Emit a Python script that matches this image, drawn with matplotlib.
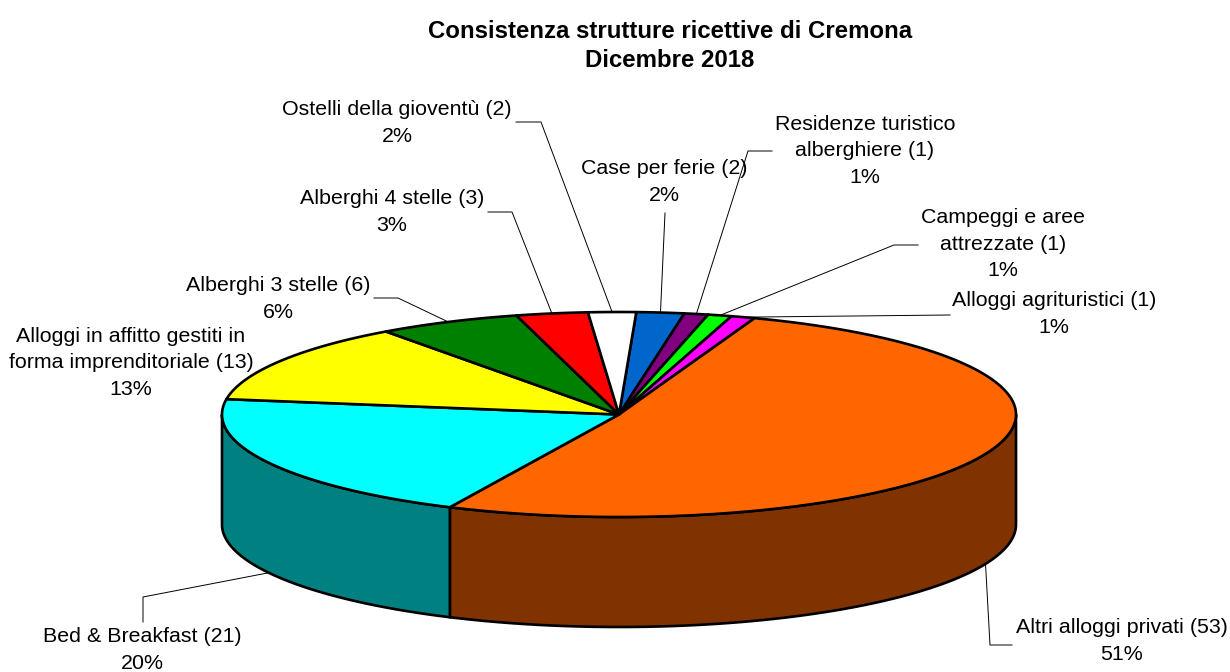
import numpy as np
import matplotlib
matplotlib.use("Agg")
import matplotlib.pyplot as plt
from matplotlib.patches import Polygon, Rectangle

plt.rcParams['font.family'] = ['Liberation Sans', 'DejaVu Sans']

# clockwise from the first slice
labels = ["Case per ferie (2)", "Residenze turistico\nalberghiere (1)",
          "Campeggi e aree\nattrezzate (1)", "Alloggi agrituristici (1)",
          "Altri alloggi privati (53)", "Bed & Breakfast (21)",
          "Alloggi in affitto gestiti in\nforma imprenditoriale (13)",
          "Alberghi 3 stelle (6)", "Alberghi 4 stelle (3)",
          "Ostelli della gioventù (2)"]
values = [2, 1, 1, 1, 53, 21, 13, 6, 3, 2]
colors = ["#0066CC", "#800080", "#00FF00", "#FF00FF", "#FF6600",
          "#00FFFF", "#FFFF00", "#008000", "#FF0000", "#FFFFFF"]
side_colors = ["#003366", "#400040", "#008000", "#800080", "#803300",
               "#008080", "#808000", "#004000", "#800000", "#808080"]

title = "Consistenza strutture ricettive di Cremona\nDicembre 2018"

# layout, in pixels
CX, CY, RX, RY, DEPTH = 619, 414.5, 397, 102.5, 110
START = 87.5
# label centre, then the leader's elbow points starting at the label
label_pos = [(664, 182), (865, 151), (1003, 244), (1054, 314), (1122, 641),
             (142, 650), (131, 363), (278, 299), (392, 212), (397, 123)]
leaders = [[(665, 213)],
           [(772, 151), (748, 151)],
           [(918, 245), (894, 245)],
           [(950, 315)],
           [(1012, 645), (990, 645)],
           [(143, 622), (143, 597)],
           None,
           [(374, 298), (398, 298)],
           [(488, 212), (512, 212)],
           [(516, 122), (541, 122)]]


def rim(angle, drop=0):
    a = np.radians(angle)
    return CX + RX * np.cos(a), CY - RY * np.sin(a) + drop


fig = plt.figure(figsize=(12.3, 6.72), dpi=100)
ax = fig.add_axes([0, 0, 1, 1])
ax.set_xlim(0, 1230)
ax.set_ylim(672, 0)
ax.axis("off")

total = sum(values)
sweep = np.array(values) / total * 360
ends = START - np.cumsum(sweep)
starts = ends + sweep

# side wall, only the part facing front (angles -180..0)
for s, e, c in zip(starts, ends, side_colors):
    for offset in (0, -360):
        hi, lo = min(s + offset, 0), max(e + offset, -180)
        if hi <= lo:
            continue
        t = np.linspace(hi, lo, 200)
        x, y = rim(t)
        xb, yb = rim(t[::-1], DEPTH)
        pts = np.column_stack([np.r_[x, xb], np.r_[y, yb]])
        ax.add_patch(Polygon(pts, closed=True, fc=c, ec="black", lw=1.9, zorder=2))

# top face
for s, e, c in zip(starts, ends, colors):
    t = np.linspace(s, e, 300)
    x, y = rim(t)
    pts = np.column_stack([np.r_[CX, x], np.r_[CY, y]])
    ax.add_patch(Polygon(pts, closed=True, fc=c, ec="black", lw=1.9,
                         joinstyle="round", zorder=3))

# labels and leaders
clip = Rectangle((11, 0), 1219, 672, transform=ax.transData)
for i, (lab, v) in enumerate(zip(labels, values)):
    txt = ax.text(label_pos[i][0], label_pos[i][1], f"{lab}\n{round(v / total * 100)}%",
                  ha="center", va="center", ma="center", fontsize=15.4,
                  linespacing=1.5, color="black", zorder=5)
    txt.set_clip_path(clip)
    if leaders[i] is None:
        continue
    mid = (starts[i] + ends[i]) / 2
    front = np.sin(np.radians(mid)) < 0
    ax_pt = rim(mid, DEPTH if front else 0)
    pts = leaders[i] + [ax_pt]
    ax.plot([p[0] for p in pts], [p[1] for p in pts], color="black", lw=0.7, zorder=4)

ax.text(670, 46, title, ha="center", va="center", fontsize=17.25, fontweight="bold",
        linespacing=1.37)

fig.savefig("out.png", dpi=100)
